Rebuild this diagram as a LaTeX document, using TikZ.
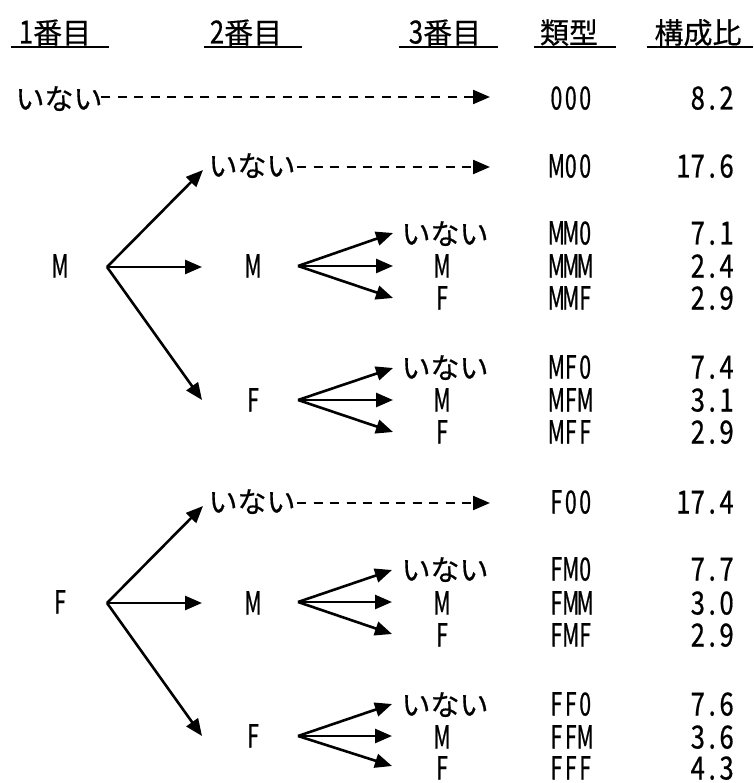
\documentclass[tikz,border=0pt]{standalone}
\usepackage{fontspec}
\setmainfont[FakeBold=0.5]{Noto Sans CJK JP}
\newfontfamily\letf[Scale=1.1,FakeStretch=0.66,FakeBold=0.6]{Noto Sans CJK JP}
\newfontfamily\digf[Scale=1.1,FakeStretch=0.8,FakeBold=0.6]{Noto Sans CJK JP}
\usetikzlibrary{arrows.meta}
\makeatletter
\newcommand\hwbox[2]{\makebox[14.4pt][c]{#1#2}}
\newcommand\monoL[1]{\monoL@#1\@nil}
\def\monoL@#1{\ifx#1\@nil\else\hwbox{\letf}{#1}\expandafter\monoL@\fi}
\newcommand\monoD[1]{\monoD@#1\@nil}
\def\monoD@#1{\ifx#1\@nil\else\hwbox{\digf}{#1}\expandafter\monoD@\fi}
\makeatother
\begin{document}
\begin{tikzpicture}[x=1pt,y=-1pt,
  txt/.style={inner sep=0pt, text height=21pt, text depth=0pt, font=\fontsize{29pt}{29pt}\selectfont},
  arr/.style={line width=2.6pt, -{Triangle[length=17pt,width=14pt]}},
  darr/.style={line width=2.2pt, dash pattern=on 9pt off 7.5pt, -{Triangle[length=17pt,width=14pt]}},
  uline/.style={line width=2.6pt},
  code/.style={txt, anchor=west},
  val/.style={txt, anchor=east}]
\useasboundingbox (0,0) rectangle (753,783);

% headers
\node[txt] (h1) at (55,33) {\monoD{1}番目};
\node[txt] (h2) at (246,33) {\monoD{2}番目};
\node[txt] (h3) at (445,33) {\monoD{3}番目};
\node[txt] (h4) at (569,33) {類型};
\node[txt] (h5) at (698,33) {構成比};
\coordinate (u1a) at (11,47);  \coordinate (u1b) at (109,47);
\coordinate (u2a) at (204,47); \coordinate (u2b) at (302,47);
\coordinate (u3a) at (399,47); \coordinate (u3b) at (498,47);
\coordinate (u4a) at (534,47); \coordinate (u4b) at (616,47);
\coordinate (u5a) at (647,47); \coordinate (u5b) at (753,47);
\draw[uline] (u1a) -- (u1b);
\draw[uline] (u2a) -- (u2b);
\draw[uline] (u3a) -- (u3b);
\draw[uline] (u4a) -- (u4b);
\draw[uline] (u5a) -- (u5b);

% row 0
\node[txt] (n0) at (59,99) {いない};
\coordinate (d0s) at (101,97); \coordinate (d0e) at (490,97);
\draw[darr] (d0s) -- (d0e);
\node[code] (c000) at (549,99) {\monoL{000}};
\node[val] (v000) at (734,99) {\monoD{8.2}};

% ===== M branch =====
\node[txt] (M1) at (60,267) {\monoL{M}};
\coordinate (oM) at (107,267);
\node[txt] (M00n) at (252,166) {いない};
\coordinate (tM00) at (203,170);
\coordinate (tMM) at (202,267);
\coordinate (tMF) at (202,400);
\draw[arr] (oM) -- (tM00);
\draw[arr] (oM) -- (tMM);
\draw[arr] (oM) -- (tMF);
\coordinate (dM0s) at (297,167); \coordinate (dM0e) at (490,167);
\draw[darr] (dM0s) -- (dM0e);
\node[code] (cM00) at (549,167) {\monoL{M00}};
\node[val] (vM00) at (734,167) {\monoD{17.6}};

% MM group
\node[txt] (MM) at (253,267) {\monoL{M}};
\coordinate (oMM) at (298,266);
\coordinate (tMM0) at (393,233); \coordinate (tMMM) at (393,266); \coordinate (tMMF) at (393,298);
\draw[arr] (oMM) -- (tMM0);
\draw[arr] (oMM) -- (tMMM);
\draw[arr] (oMM) -- (tMMF);
\node[txt] (MM0n) at (445,234) {いない};
\node[txt] (MMMn) at (442,267) {\monoL{M}};
\node[txt] (MMFn) at (442,299) {\monoL{F}};
\node[code] (cMM0) at (549,234) {\monoL{MM0}};
\node[code] (cMMM) at (549,267) {\monoL{MMM}};
\node[code] (cMMF) at (549,299) {\monoL{MMF}};
\node[val] (vMM0) at (734,234) {\monoD{7.1}};
\node[val] (vMMM) at (734,267) {\monoD{2.4}};
\node[val] (vMMF) at (734,299) {\monoD{2.9}};

% MF group
\node[txt] (MF) at (253,401) {\monoL{F}};
\coordinate (oMF) at (298,400);
\coordinate (tMF0) at (393,368); \coordinate (tMFM) at (393,400); \coordinate (tMFF) at (393,432);
\draw[arr] (oMF) -- (tMF0);
\draw[arr] (oMF) -- (tMFM);
\draw[arr] (oMF) -- (tMFF);
\node[txt] (MF0n) at (445,368) {いない};
\node[txt] (MFMn) at (442,401) {\monoL{M}};
\node[txt] (MFFn) at (442,433) {\monoL{F}};
\node[code] (cMF0) at (549,368) {\monoL{MF0}};
\node[code] (cMFM) at (549,401) {\monoL{MFM}};
\node[code] (cMFF) at (549,433) {\monoL{MFF}};
\node[val] (vMF0) at (734,368) {\monoD{7.4}};
\node[val] (vMFM) at (734,401) {\monoD{3.1}};
\node[val] (vMFF) at (734,433) {\monoD{2.9}};

% ===== F branch =====
\node[txt] (F1) at (60,603) {\monoL{F}};
\coordinate (oF) at (107,603);
\node[txt] (F00n) at (252,502) {いない};
\coordinate (tF00) at (203,506);
\coordinate (tFM) at (202,603);
\coordinate (tFF) at (202,736);
\draw[arr] (oF) -- (tF00);
\draw[arr] (oF) -- (tFM);
\draw[arr] (oF) -- (tFF);
\coordinate (dF0s) at (297,503); \coordinate (dF0e) at (490,503);
\draw[darr] (dF0s) -- (dF0e);
\node[code] (cF00) at (549,503) {\monoL{F00}};
\node[val] (vF00) at (734,503) {\monoD{17.4}};

% FM group
\node[txt] (FM) at (253,604) {\monoL{M}};
\coordinate (oFM) at (298,602);
\coordinate (tFM0) at (392,570); \coordinate (tFMM) at (392,602); \coordinate (tFMF) at (392,634);
\draw[arr] (oFM) -- (tFM0);
\draw[arr] (oFM) -- (tFMM);
\draw[arr] (oFM) -- (tFMF);
\node[txt] (FM0n) at (445,570) {いない};
\node[txt] (FMMn) at (442,604) {\monoL{M}};
\node[txt] (FMFn) at (442,636) {\monoL{F}};
\node[code] (cFM0) at (549,570) {\monoL{FM0}};
\node[code] (cFMM) at (549,604) {\monoL{FMM}};
\node[code] (cFMF) at (549,636) {\monoL{FMF}};
\node[val] (vFM0) at (734,570) {\monoD{7.7}};
\node[val] (vFMM) at (734,604) {\monoD{3.0}};
\node[val] (vFMF) at (734,636) {\monoD{2.9}};

% FF group
\node[txt] (FF) at (253,737) {\monoL{F}};
\coordinate (oFF) at (298,736);
\coordinate (tFF0) at (392,704); \coordinate (tFFM) at (392,736); \coordinate (tFFF) at (392,766);
\draw[arr] (oFF) -- (tFF0);
\draw[arr] (oFF) -- (tFFM);
\draw[arr] (oFF) -- (tFFF);
\node[txt] (FF0n) at (445,705) {いない};
\node[txt] (FFMn) at (442,738) {\monoL{M}};
\node[txt] (FFFn) at (442,769) {\monoL{F}};
\node[code] (cFF0) at (549,705) {\monoL{FF0}};
\node[code] (cFFM) at (549,738) {\monoL{FFM}};
\node[code] (cFFF) at (549,769) {\monoL{FFF}};
\node[val] (vFF0) at (734,705) {\monoD{7.6}};
\node[val] (vFFM) at (734,738) {\monoD{3.6}};
\node[val] (vFFF) at (734,769) {\monoD{4.3}};
\end{tikzpicture}
\end{document}
